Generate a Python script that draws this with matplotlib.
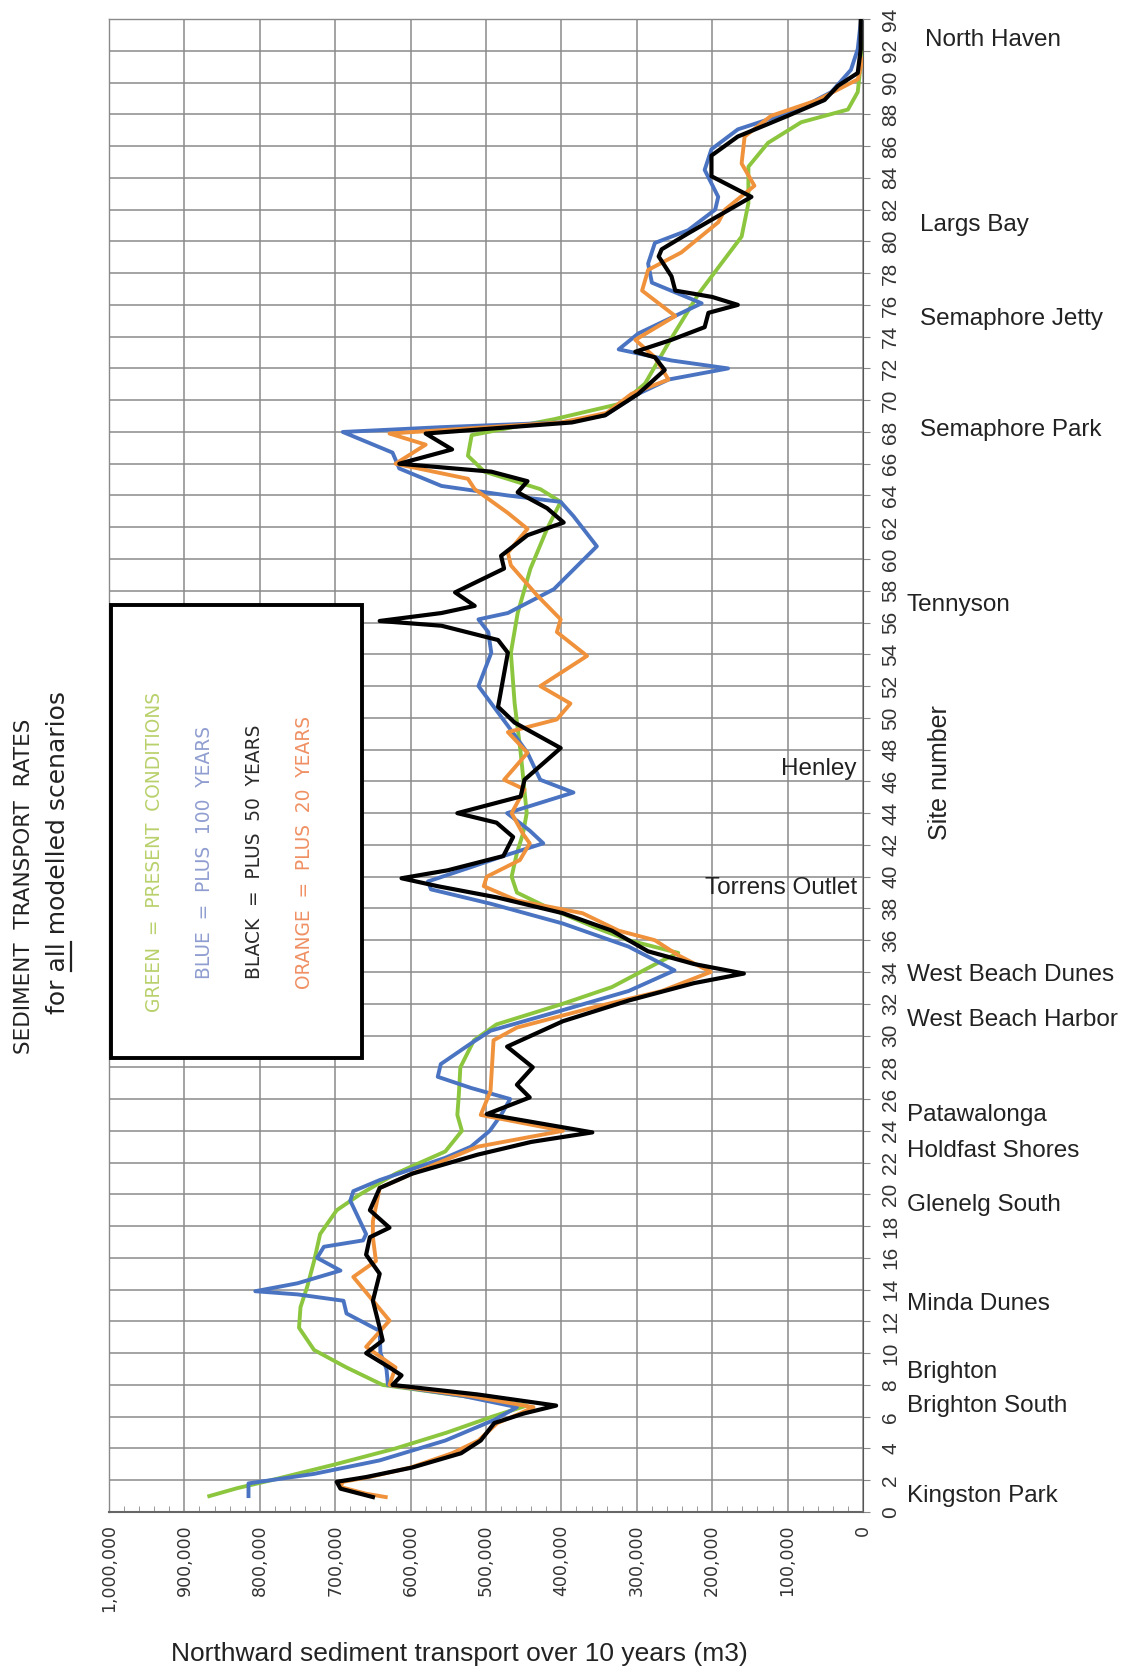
import matplotlib
matplotlib.use('Agg')
import matplotlib.pyplot as plt
from matplotlib.patches import Rectangle
from matplotlib.lines import Line2D
from matplotlib.ticker import MultipleLocator, FuncFormatter

# northward transport (m3 over 10 years) against site number, one pair of lists per scenario
green_site = [1.0, 1.5, 2, 3, 4, 5, 6, 6.7, 7.3, 8, 9.1, 10.2, 11.6, 12.9, 14.2, 15.8, 17.5, 19, 20,
              21.3, 22.7, 24, 25, 26.3, 28, 29.7, 30.7, 32, 33.05, 34.7, 35.2, 36, 36.8, 38.1, 39, 40,
              41.5, 42.7, 44, 47.8, 50.9, 54.1, 56.6, 59.4, 61.9, 63.6, 64.4, 65.5, 66.5, 67.8, 68.8,
              69.8, 71.05, 73.6, 76.7, 78.6, 80.3, 82.4, 84.7, 86.2, 87.5, 88.3, 89.4, 92.5]
green_val = [867, 830, 785, 700, 620, 552, 492, 446, 530, 637, 685, 728, 748, 746, 737, 728, 720, 698, 667,
             620, 554, 532, 538, 536, 534, 516, 486, 398, 333, 267, 245, 311, 355, 420, 459, 466,
             459, 451, 446, 454, 462, 467, 458, 441, 419, 401, 428, 502, 524, 519, 410,
             320, 289, 258, 218, 188, 161, 152, 152, 126, 82, 20, 7, 0]

blue_site = [1.0, 1.8, 2.4, 3.25, 4.5, 5.8, 6.6, 7.3, 8, 9, 10, 11.4, 12.5, 13.3, 13.7, 13.9, 14.4, 15.2,
             16.0, 16.7, 17.1, 17.5, 19.6, 20.2, 20.9, 22.3, 23, 24, 25, 26, 26.7, 27.4, 28.2, 29.5,
             30.3, 31.6, 32.8, 34.1, 35.6, 37.05, 38.3, 39.2, 39.7, 40.6, 41.3, 42.1, 42.9, 44.0, 45.3,
             46.1, 47.8, 49.5, 52, 54.1, 55.4, 56.2, 56.6, 58.1, 60.8, 62.7, 63.6, 64, 64.6, 65.7, 66.7,
             68, 68.3, 68.6, 69.05, 70.4, 71.3, 72, 72.5, 73.2, 74.2, 76.1, 77.4, 78.6, 79.9, 80.7, 82,
             82.8, 84.5, 85.8, 87.05, 88.3, 89.4, 90.8, 92.1, 93.8]
blue_val = [815, 815, 728, 641, 554, 489, 459, 530, 630, 632, 640, 641, 685, 689, 750, 806, 750, 693,
            724, 715, 663, 659, 680, 676, 641, 554, 520, 495, 480, 468, 520, 564, 560, 520,
            494, 398, 311, 250, 311, 398, 494, 573, 577, 520, 477, 424, 442, 472, 384,
            428, 445, 471, 510, 493, 497, 510, 471, 410, 353, 384, 401, 471, 559, 615, 624,
            690, 560, 400, 342, 298, 258, 179, 254, 324, 298, 214, 280, 285, 276, 232, 196,
            192, 210, 201, 166, 86, 42, 16, 7, 3]

black_site = [0.94, 1.47, 1.9, 2.2, 2.8, 3.7, 4.5, 5.6, 6.2, 6.7, 7.4, 8, 8.6, 9.1, 10, 10.8, 11.6, 13.3,
              15, 16.2, 17.3, 17.9, 19, 20.4, 21.3, 22.5, 23.3, 23.9, 25.05, 26.1, 26.9, 28, 29.3, 30.9,
              32.2, 33.3, 33.9, 34.5, 35.3, 36.6, 37.7, 38.7, 39.4, 39.9, 40.4, 41.3, 42.5, 43.4, 44.0,
              45.05, 46.1, 48.1, 49.7, 50.7, 54.1, 54.9, 55.8, 56.1, 56.6, 57.05, 57.9, 58.5, 59.4, 60.2,
              61.5, 62.3, 63.2, 64.2, 64.9, 65.5, 66, 66.9, 67.9, 68.6, 69.05, 70.4, 71.9, 72.7, 73.05,
              73.8, 74.6, 75.5, 76, 76.5, 76.9, 77.8, 79.05, 79.5, 80.5, 81.6, 82.8, 84.1, 85.4, 86.6,
              87.9, 88.9, 89.8, 90.6, 92.1, 94]
black_val = [650, 693, 698, 659, 598, 533, 507, 489, 450, 407, 511, 624, 612, 628, 659, 637, 641, 650,
             641, 659, 654, 628, 654, 641, 598, 511, 440, 359, 499, 442, 459, 438, 472, 398,
             311, 224, 158, 224, 285, 333, 398, 486, 564, 612, 551, 477, 464, 486, 538,
             454, 449, 401, 462, 484, 471, 484, 559, 641, 559, 515, 541, 515, 476, 480,
             445, 397, 419, 458, 445, 493, 615, 545, 580, 386, 342, 298, 263, 276, 302,
             254, 210, 205, 166, 200, 249, 254, 271, 267, 232, 192, 148, 201, 201, 166,
             100, 51, 33, 7, 3, 3]

orange_site = [0.94, 1.15, 1.57, 1.9, 2.2, 2.8, 3.7, 4.5, 5.6, 6.2, 6.6, 7.3, 8, 9.1, 10.4, 12.05, 14.8,
               15.8, 17.3, 18.3, 20.4, 21.3, 23, 24, 25, 26.5, 29.7, 30.5, 31.8, 32.8, 34, 35.05, 36,
               36.6, 37.7, 38.5, 39.4, 40, 41.05, 42.1, 42.7, 44, 45.5, 46.1, 47.8, 49.1, 49.9, 50.9,
               52, 53.9, 55.4, 56.2, 57.7, 59.6, 60.4, 61.9, 62.9, 64.4, 65.05, 66, 67.2, 67.9, 68.6,
               69.2, 70.4, 71.3, 72.7, 73.8, 75.3, 76.9, 78.2, 79.3, 81.2, 82, 83.5, 84.9, 86.6, 87.9,
               88.9, 90.2, 91.5]
orange_val = [633, 659, 693, 690, 655, 600, 545, 510, 485, 455, 437, 520, 628, 620, 659, 628, 676,
              646, 650, 650, 641, 598, 511, 398, 507, 494, 490, 459, 355, 267, 202, 245, 276,
              324, 372, 459, 503, 499, 455, 442, 451, 466, 449, 476, 445, 471, 406, 388,
              428, 366, 406, 401, 432, 467, 471, 445, 471, 515, 524, 620, 580, 628, 400,
              340, 307, 258, 276, 302, 249, 293, 285, 241, 192, 183, 144, 161, 157, 122,
              60, 7, 0]

places = ['North Haven', 'Largs Bay', 'Semaphore Jetty', 'Semaphore Park', 'Tennyson',
          'West Beach Dunes', 'West Beach Harbor', 'Patawalonga', 'Holdfast Shores',
          'Glenelg South', 'Minda Dunes', 'Brighton', 'Brighton South', 'Kingston Park']
place_sites = [92.7, 81.0, 75.1, 68.1, 57.1, 33.8, 31.0, 25.0, 22.7, 19.3, 13.1, 8.8, 6.7, 1.0]
inner_places = ['Henley', 'Torrens Outlet']
inner_sites = [46.8, 39.3]

legend_lines = ['GREEN  =  PRESENT  CONDITIONS', 'BLUE  =  PLUS  100  YEARS',
                'BLACK  =  PLUS  50  YEARS', 'ORANGE  =  PLUS  20  YEARS']
legend_colors = ['#b9d16c', '#8f9dd0', '#2a2a2a', '#ef9063']

W, H = 1130, 1672
fig = plt.figure(figsize=(W / 100, H / 100), dpi=100)
ax = fig.add_axes([109 / W, 1 - 1512 / H, 754 / W, 1493 / H])

def k(vals):
    return [v * 1000 for v in vals]

ax.plot(k(green_val), green_site, color='#8cc63f', lw=2.8, solid_joinstyle='round', zorder=3)
ax.plot(k(blue_val), blue_site, color='#4a74c2', lw=2.8, solid_joinstyle='round', zorder=4)
ax.plot(k(orange_val), orange_site, color='#f0923b', lw=2.8, solid_joinstyle='round', zorder=5)
ax.plot(k(black_val), black_site, color='black', lw=3.0, solid_joinstyle='round', zorder=6)

ax.set_xlim(1_000_000, 0)
ax.set_ylim(0, 94)
ax.xaxis.set_major_locator(MultipleLocator(100_000))
ax.xaxis.set_minor_locator(MultipleLocator(20_000))
ax.yaxis.set_major_locator(MultipleLocator(2))
ax.xaxis.set_major_formatter(FuncFormatter(lambda v, p: f'{int(round(v)):,}'))
ax.grid(True, which='major', color='#8a8a8a', lw=1.1)
ax.set_axisbelow(True)

ax.yaxis.tick_right()
ax.tick_params(axis='x', which='major', length=0, pad=9, labelrotation=90, labelsize=12.5,
               labelcolor='#333333')
ax.tick_params(axis='x', which='minor', length=4, direction='in', color='#888888')
ax.tick_params(axis='y', which='major', length=5, color='#888888', pad=8, labelrotation=90,
               labelsize=15, labelcolor='#333333')
for lab in ax.get_yticklabels():
    lab.set_fontfamily('Liberation Sans')
    lab.set_verticalalignment('center')
for lab in ax.get_xticklabels():
    lab.set_fontfamily('DejaVu Sans')

for side in ['left', 'top']:
    ax.spines[side].set_color('#8a8a8a')
    ax.spines[side].set_linewidth(1.0)
ax.spines['right'].set_color('#555555')
ax.spines['bottom'].set_color('#666666')
ax.spines['bottom'].set_linewidth(1.5)

# place names beside the site axis
ytr = ax.get_yaxis_transform()
for name, s in zip(places, place_sites):
    x0 = 1.082 if s > 90 else (1.075 if s > 60 else 1.058)
    ax.text(x0, s, name, transform=ytr, ha='left', va='center', fontsize=17.5,
            family='Liberation Sans', color='#222222', clip_on=False)
for name, s in zip(inner_places, inner_sites):
    ax.text(0.992, s, name, transform=ytr, ha='right', va='center', fontsize=17.5,
            family='Liberation Sans', color='#222222', zorder=7)

# legend box drawn as a framed block of rotated text
box = Rectangle((111 / W, 1 - 1058 / H), 251 / W, 453 / H, transform=fig.transFigure,
                facecolor='white', edgecolor='black', lw=2.8, zorder=10)
fig.patches.append(box)
for i, (txt, col) in enumerate(zip(legend_lines, legend_colors)):
    fig.text((155 + 50 * i) / W, 1 - 852 / H, txt, rotation=90, ha='center', va='center',
             fontsize=13.4, color=col, family='DejaVu Sans', zorder=11)

fig.text(24 / W, 1 - 886 / H, 'SEDIMENT  TRANSPORT  RATES', rotation=90, ha='center',
         va='center', fontsize=15.5, color='#222222', family='DejaVu Sans')
sub = fig.text(58 / W, 1 - 852 / H, 'for all modelled scenarios', rotation=90,
               ha='center', va='center', fontsize=18, color='#222222', family='DejaVu Sans')

# underline the word "all" by measuring the unrotated pieces of the subtitle
renderer = fig.canvas.get_renderer()
def text_len(s):
    t = fig.text(0, 0, s, fontsize=18, family='DejaVu Sans')
    w = t.get_window_extent(renderer).width
    t.remove()
    return w
full_len = text_len('for all modelled scenarios')
start_y = (H - 852) - full_len / 2
u0 = start_y + text_len('for ')
u1 = start_y + text_len('for all')
fig.add_artist(Line2D([71 / W, 71 / W], [u0 / H, u1 / H], transform=fig.transFigure,
                      color='#222222', lw=1.6))

fig.text(940 / W, 1 - 773 / H, 'Site number', rotation=90, ha='center', va='center',
         fontsize=18, family='Liberation Sans', color='#222222')
fig.text(459 / W, 1 - 1654 / H, 'Northward sediment transport over 10 years (m3)', ha='center',
         va='center', fontsize=19, family='Liberation Sans', color='#222222')

fig.savefig('out.png', dpi=100, facecolor='white')
